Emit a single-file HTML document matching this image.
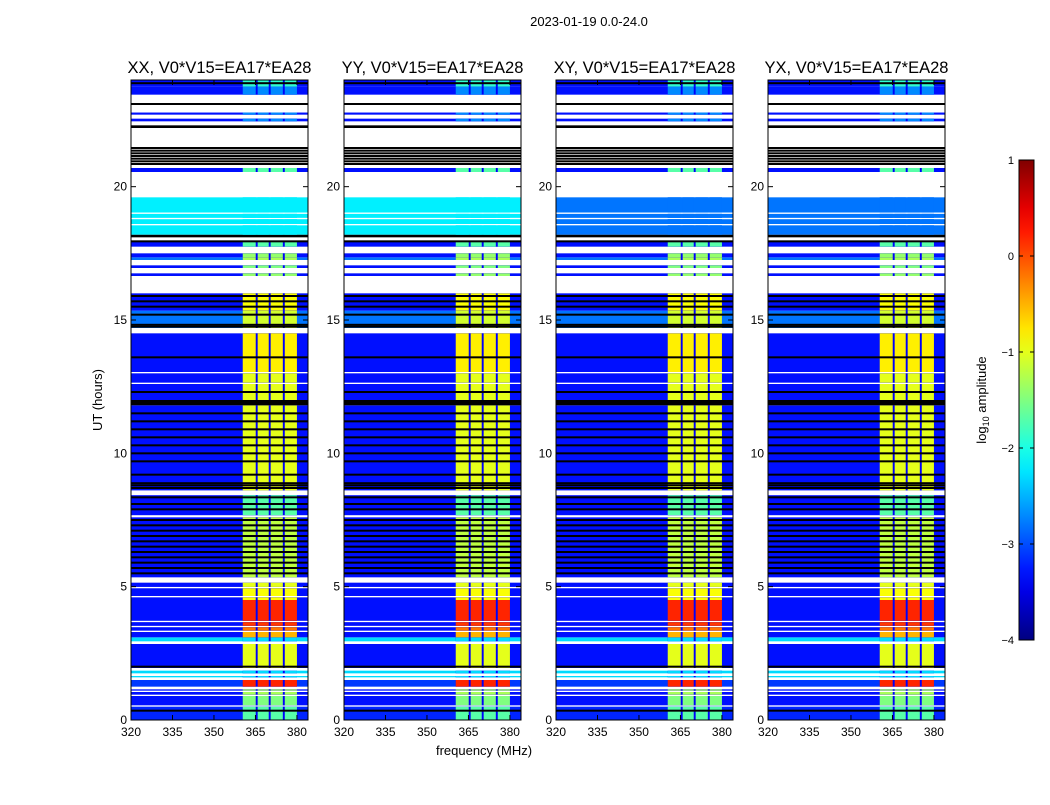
<!DOCTYPE html>
<html><head><meta charset="utf-8"><style>
body{margin:0;background:#fff;width:1050px;height:800px;overflow:hidden;font-family:"Liberation Sans",sans-serif}
</style></head><body>
<svg id="fig" width="1050" height="800" xmlns="http://www.w3.org/2000/svg" font-family="Liberation Sans, sans-serif">
<rect width="1050" height="800" fill="#fff"/>
<text x="589" y="26" font-size="13" text-anchor="middle">2023-01-19 0.0-24.0</text>
<text x="484" y="755" font-size="13" text-anchor="middle">frequency (MHz)</text>
<text x="102" y="400" font-size="13" text-anchor="middle" transform="rotate(-90 102 400)">UT (hours)</text>
<g id="panels"></g>
<g id="cbar"></g>
<text x="986" y="400" font-size="13" text-anchor="middle" transform="rotate(-90 986 400)">log<tspan font-size="9" dy="3">10</tspan><tspan dy="-3"> amplitude</tspan></text>
</svg>
<script>
const panelTitles=["XX, V0*V15=EA17*EA28","YY, V0*V15=EA17*EA28","XY, V0*V15=EA17*EA28","YX, V0*V15=EA17*EA28"];
const xTicks=[320,335,350,365,380];
const yTicks=[0,5,10,15,20];
const cbTicks=[1,0,-1,-2,-3,-4];
const rfiStart=[360.4,365.8,370.5,375.6];
const rfiEnd=[365.1,369.8,374.9,380.0];
// time segments (hours): kind d=data, w=flagged white, k=flagged black
const segStart=[0.0,0.5,0.55,0.9,0.95,1.05,1.1,1.15,1.25,1.5,1.6,1.65,1.75,1.85,1.95,2.85,2.95,3.1,3.3,3.35,3.48,3.53,3.67,3.72,4.5,4.6,4.65,4.94,4.99,5.15,5.35,7.6,7.68,8.43,8.61,11.8,12.0,12.6,12.65,13.0,13.05,14.5,14.55,14.7,15.35,16.0,16.65,16.75,16.95,17.05,17.25,17.35,17.5,17.75,17.95,18.1,18.2,18.55,18.6,18.78,18.83,18.98,19.03,19.6,20.55,20.7,21.5,22.2,22.3,22.45,22.55,22.7,22.78,23.0,23.35,23.45,23.75];
const segEnd=[0.5,0.55,0.9,0.95,1.05,1.1,1.15,1.25,1.5,1.6,1.65,1.75,1.85,1.95,2.85,2.95,3.1,3.3,3.35,3.48,3.53,3.67,3.72,4.5,4.6,4.65,4.94,4.99,5.15,5.35,7.6,7.68,8.43,8.61,11.8,12.0,12.6,12.65,13.0,13.05,14.5,14.55,14.7,15.35,16.0,16.65,16.75,16.95,17.05,17.25,17.35,17.5,17.75,17.95,18.1,18.2,18.55,18.6,18.78,18.83,18.98,19.03,19.6,20.55,20.7,21.5,22.2,22.3,22.45,22.55,22.7,22.78,23.0,23.35,23.45,23.75,24.0];
const segKind=['d','w','d','w','d','w','d','w','d','w','d','w','d','w','d','w','d','d','w','d','w','d','w','d','d','w','d','w','d','w','d','w','d','w','d','k','d','w','d','w','d','w','w','d','d','w','d','w','d','w','d','d','w','d','w','k','d','w','d','w','d','w','d','w','d','w','w','k','w','d','w','d','w','w','w','d','d'];
const segBg=[-3.2,0,-3.3,0,-3.3,0,-3.3,0,-3.1,0,-2.3,0,-2.3,0,-3.3,0,-2.3,-3.3,0,-3.3,0,-3.3,0,-3.3,-3.3,0,-3.3,0,-3.3,0,-3.3,0,-3.3,0,-3.3,0,-3.3,0,-3.3,0,-3.3,0,0,-2.8,-3.3,0,-3.3,0,-3.3,0,-2.8,-3.3,0,-3.3,0,0,-2.2,0,-2.2,0,-2.2,0,-2.2,0,-3.3,0,0,0,0,-3.3,0,-3.3,0,0,0,-3.3,-3.3];
const segRfi=[-1.7,0,-1.5,0,-1.3,0,-1.3,0,0.2,0,-2.3,0,-2.3,0,-1.0,0,-2.3,-0.5,0,-0.2,0,0.1,0,0.2,-0.9,0,-0.9,0,-1.0,0,-1.2,0,-1.7,0,-1.0,0,-1.0,0,-1.0,0,-0.8,0,0,-1.1,-0.9,0,-1.4,0,-1.5,0,-1.3,-1.4,0,-1.7,0,0,-2.2,0,-2.2,0,-2.2,0,-2.2,0,-1.7,0,0,0,0,-2.7,0,-2.7,0,0,0,-2.7,-1.9];
// background level of 18.2-19.6 h band per panel
const panelCyanBg=[-2.2,-2.2,-2.8,-2.8];
const blackLines=[0.35,2.0,5.5,5.7,5.9,6.1,6.3,6.5,6.7,6.9,7.1,7.3,7.5,7.9,8.1,8.35,8.7,8.8,8.88,9.2,9.7,10.0,10.3,10.6,10.9,11.2,11.5,12.3,13.6,14.75,14.82,15.2,15.5,15.7,15.9,17.95,20.85,20.95,21.05,21.15,21.25,21.35,21.45,23.1,23.88];
const gapVal=-3.4;

function jet(v){let t=(v+4)/5;t=Math.max(0,Math.min(1,t));
 const c=x=>Math.round(255*Math.max(0,Math.min(1,1.5-Math.abs(x))));
 return `rgb(${c(4*t-3)},${c(4*t-2)},${c(4*t-1)})`;}
const NS="http://www.w3.org/2000/svg";
function mk(tag,attrs,parent){const e=document.createElementNS(NS,tag);for(const k in attrs)e.setAttribute(k,attrs[k]);parent.appendChild(e);return e;}
const panelX=[131,344,556,768],PW=177,PT=80,PH=640;
const panels=document.getElementById('panels');
panelX.forEach((x0,p)=>{
 const xs=f=>x0+(f-320)/64*PW, ys=h=>PT+PH-h/24*PH;
 const g=mk('g',{},panels);
 
 
 for(let i=0;i<segStart.length;i++){
  const y1=ys(segEnd[i]),hgt=ys(segStart[i])-y1;
  if(segKind[i]==='w')continue;
  if(segKind[i]==='k'){const r=mk('rect',{x:x0,y:y1,width:PW,height:hgt,fill:'#000'},g);
   continue;}
  let bg=segBg[i];let cyan=false;if(segStart[i]>=18.2&&segEnd[i]<=19.6){bg=panelCyanBg[p];cyan=true;}
  const r=mk('rect',{x:x0,y:y1,width:PW,height:hgt,fill:jet(bg)},g);
  
  const gp=mk('rect',{x:xs(rfiStart[0]),y:y1,width:xs(rfiEnd[3])-xs(rfiStart[0]),height:hgt,fill:jet(cyan?bg:Math.min(gapVal,bg))},g);
  
  for(let j=0;j<rfiStart.length;j++){
   const c=mk('rect',{x:xs(rfiStart[j]),y:y1,width:xs(rfiEnd[j])-xs(rfiStart[j]),height:hgt,fill:jet(cyan?bg:segRfi[i])},g);
   }
 }
 blackLines.forEach(h=>{const l=mk('rect',{x:x0,y:ys(h)-1,width:PW,height:2,fill:'#000'},g);
  });
 const fr=mk('rect',{x:x0,y:PT,width:PW,height:PH,fill:'none',stroke:'#000','stroke-width':1},g);
 
 xTicks.forEach(v=>{const X=xs(v);
  mk('line',{x1:X,y1:PT+PH,x2:X,y2:PT+PH-5,stroke:'#000'},g);mk('line',{x1:X,y1:PT,x2:X,y2:PT+5,stroke:'#000'},g);
  const t=mk('text',{x:X,y:PT+PH+16,'font-size':12,'text-anchor':'middle'},g);t.textContent=v;
  });
 yTicks.forEach(v=>{const Y=ys(v);
  mk('line',{x1:x0,y1:Y,x2:x0+5,y2:Y,stroke:'#000'},g);mk('line',{x1:x0+PW,y1:Y,x2:x0+PW-5,y2:Y,stroke:'#000'},g);
  const t=mk('text',{x:x0-4,y:Y+4,'font-size':12,'text-anchor':'end'},g);t.textContent=v;
  });
 const tt=mk('text',{x:x0+PW/2,y:73,'font-size':16.5,'text-anchor':'middle'},g);tt.textContent=panelTitles[p];
 
});
// colorbar
const cb=document.getElementById('cbar');const cx=1019,cw=15,ct=160,ch=480;
const defs=mk('defs',{},cb);const lg=mk('linearGradient',{id:'jg',x1:0,y1:1,x2:0,y2:0},defs);
for(let i=0;i<=20;i++){mk('stop',{offset:i/20,'stop-color':jet(-4+5*i/20)},lg);}
mk('rect',{x:cx,y:ct,width:cw,height:ch,fill:'url(#jg)',stroke:'#000'},cb);
cbTicks.forEach(v=>{const Y=ct+ch-(v+4)/5*ch;
 mk('line',{x1:cx,y1:Y,x2:cx+4,y2:Y,stroke:'#000'},cb);mk('line',{x1:cx+cw,y1:Y,x2:cx+cw-4,y2:Y,stroke:'#000'},cb);
 const t=mk('text',{x:cx-5,y:Y+4,'font-size':11,'text-anchor':'end'},cb);t.textContent=v<0?'\u2212'+(-v):v;
 });
</script>
</body></html>
